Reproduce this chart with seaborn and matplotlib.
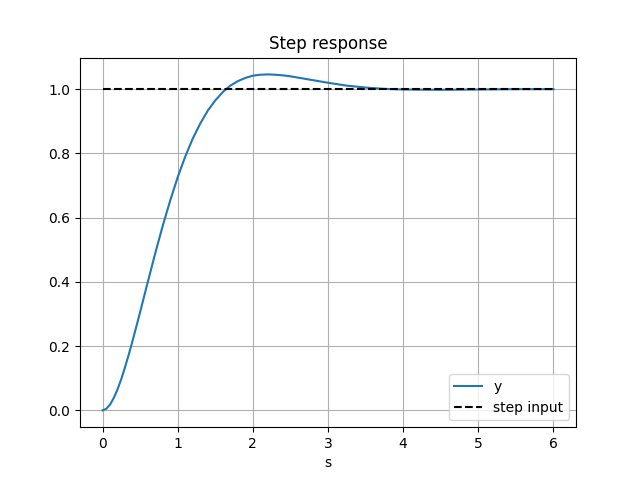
import matplotlib
matplotlib.use("Agg")
import matplotlib.pyplot as plt
import seaborn as sns

# values
time_s = [0.0, 0.05, 0.1, 0.15, 0.2, 0.25, 0.3, 0.35, 0.4, 0.5, 0.6, 0.7, 0.8, 0.9, 1.0,
          1.1, 1.2, 1.3, 1.4, 1.5, 1.6, 1.7, 1.8, 1.9, 2.0,
          2.1, 2.2, 2.3, 2.4, 2.5, 2.6, 2.7, 2.8, 2.9, 3.0,
          3.25, 3.5, 3.75, 4.0, 4.5, 5.0, 5.5, 6.0]
response = [0.0, 0.005, 0.018, 0.039, 0.066, 0.098, 0.135, 0.175, 0.217, 0.306, 0.398, 0.488, 0.574, 0.653, 0.726,
            0.790, 0.846, 0.893, 0.933, 0.965, 0.991, 1.011, 1.025, 1.035, 1.042,
            1.045, 1.046, 1.045, 1.043, 1.040, 1.036, 1.032, 1.028, 1.024, 1.020,
            1.011, 1.005, 1.001, 0.999, 0.998, 0.999, 1.0, 1.0]
step_t = [0.0, 6.0]
step_level = [1.0, 1.0]

fig, ax = plt.subplots(figsize=(6.4, 4.8), dpi=100)
sns.lineplot(x=time_s, y=response, ax=ax, label="y", color="#1f77b4")
sns.lineplot(x=step_t, y=step_level, ax=ax, label="step input", color="k", linestyle="--")
ax.set_title("Step response")
ax.set_xlabel("s")
ax.grid(True)
ax.legend(loc="lower right")
fig.savefig("out.png")
